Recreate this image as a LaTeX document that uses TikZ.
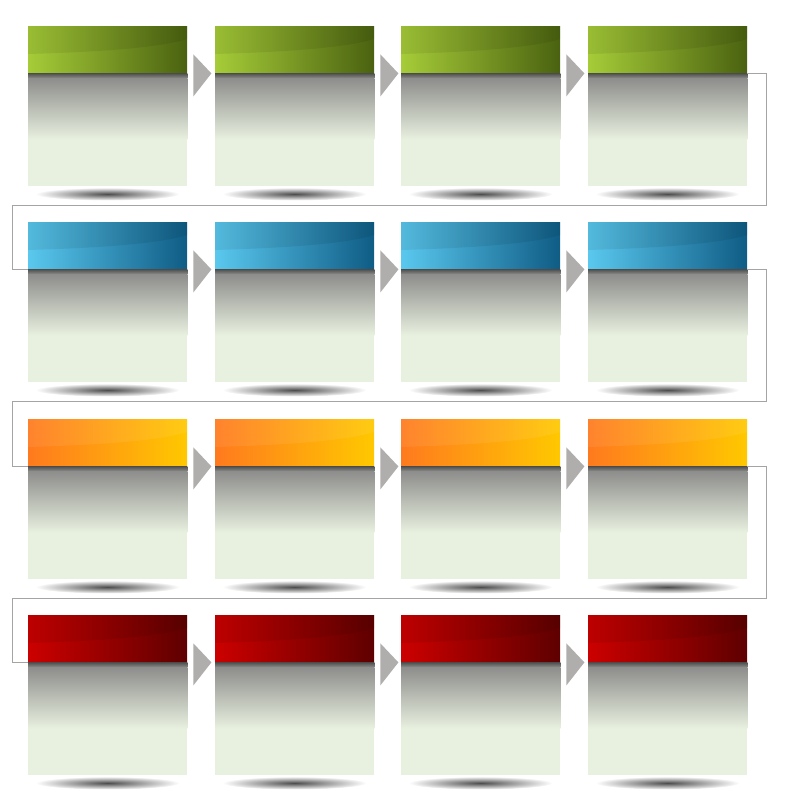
\documentclass[tikz,border=0pt]{standalone}
\usetikzlibrary{calc}
\definecolor{greenL}{HTML}{A6CC38}
\definecolor{greenR}{HTML}{4A6210}
\definecolor{blueL}{HTML}{5AC8EE}
\definecolor{blueR}{HTML}{0F5C85}
\definecolor{orangeL}{HTML}{FF7A1E}
\definecolor{orangeR}{HTML}{FFC800}
\definecolor{redL}{HTML}{CC0000}
\definecolor{redR}{HTML}{5E0000}
\definecolor{bodygreen}{HTML}{E8F0DF}
\definecolor{shadowdark}{HTML}{505050}
\definecolor{shadowgray}{HTML}{8E8E8C}
\definecolor{arrowgray}{HTML}{B0AEAC}
\definecolor{linegray}{HTML}{A4A4A4}
\tikzset{
  head/.style 2 args={rectangle, inner sep=0pt, minimum width=159pt, minimum height=47pt, anchor=north west, left color=#1, right color=#2},
  body/.style={rectangle, inner sep=0pt, minimum width=159pt, minimum height=112pt, anchor=north, fill=bodygreen},
  gloss/.style={fill=#1, opacity=.07},
  tri/.style={fill=arrowgray},
  link/.style={draw=linegray, line width=1.2pt},
  drop/.style={shading=radial, inner color=black!70, outer color=white}
}
\begin{document}
\begin{tikzpicture}[x=1pt,y=1pt]
\useasboundingbox (0,0) rectangle (800,800);
\foreach \r/\cl/\cr/\gl/\ty in {1/greenL/greenR/black/774, 2/blueL/blueR/black/578, 3/orangeL/orangeR/white/381, 4/redL/redR/black/185}
\foreach \c/\tx in {1/28, 2/215, 3/401, 4/588}{
  \shade[drop] (\tx+79.5,\ty-168) ellipse (72 and 6.5);
  \node[head={\cl}{\cr}] (h\r\c) at (\tx,\ty) {};
  \fill[gloss=\gl] (h\r\c.north west) -- ($(h\r\c.north west)+(0,-28)$) .. controls ($(h\r\c.north west)+(70,-26)$) and ($(h\r\c.north west)+(130,-22)$) .. ($(h\r\c.north east)+(0,-13)$) -- (h\r\c.north east) -- cycle;
  \node[body] (b\r\c) at (h\r\c.south) {};
  \shade[top color=shadowdark, bottom color=shadowgray] (b\r\c.north west) rectangle ($(b\r\c.north east)+(0,-5)$);
  \shade[top color=shadowgray, middle color=bodygreen!60!shadowgray, bottom color=bodygreen] ($(b\r\c.north west)+(0,-5)$) rectangle ($(b\r\c.north east)+(0,-66)$);
}
\foreach \r in {1,...,4}
\foreach \c in {1,2,3}
  \fill[tri] ($(h\r\c.south east)+(6,19)$) -- ++(18,-19) -- ++(-18,-23) -- cycle;
\foreach \r/\n in {1/2, 2/3, 3/4}
  \draw[link] (b\r4.north east) -- +(19,0) -- +(19,-132) -- +(-735,-132) |- (b\n1.north west);
\end{tikzpicture}
\end{document}
